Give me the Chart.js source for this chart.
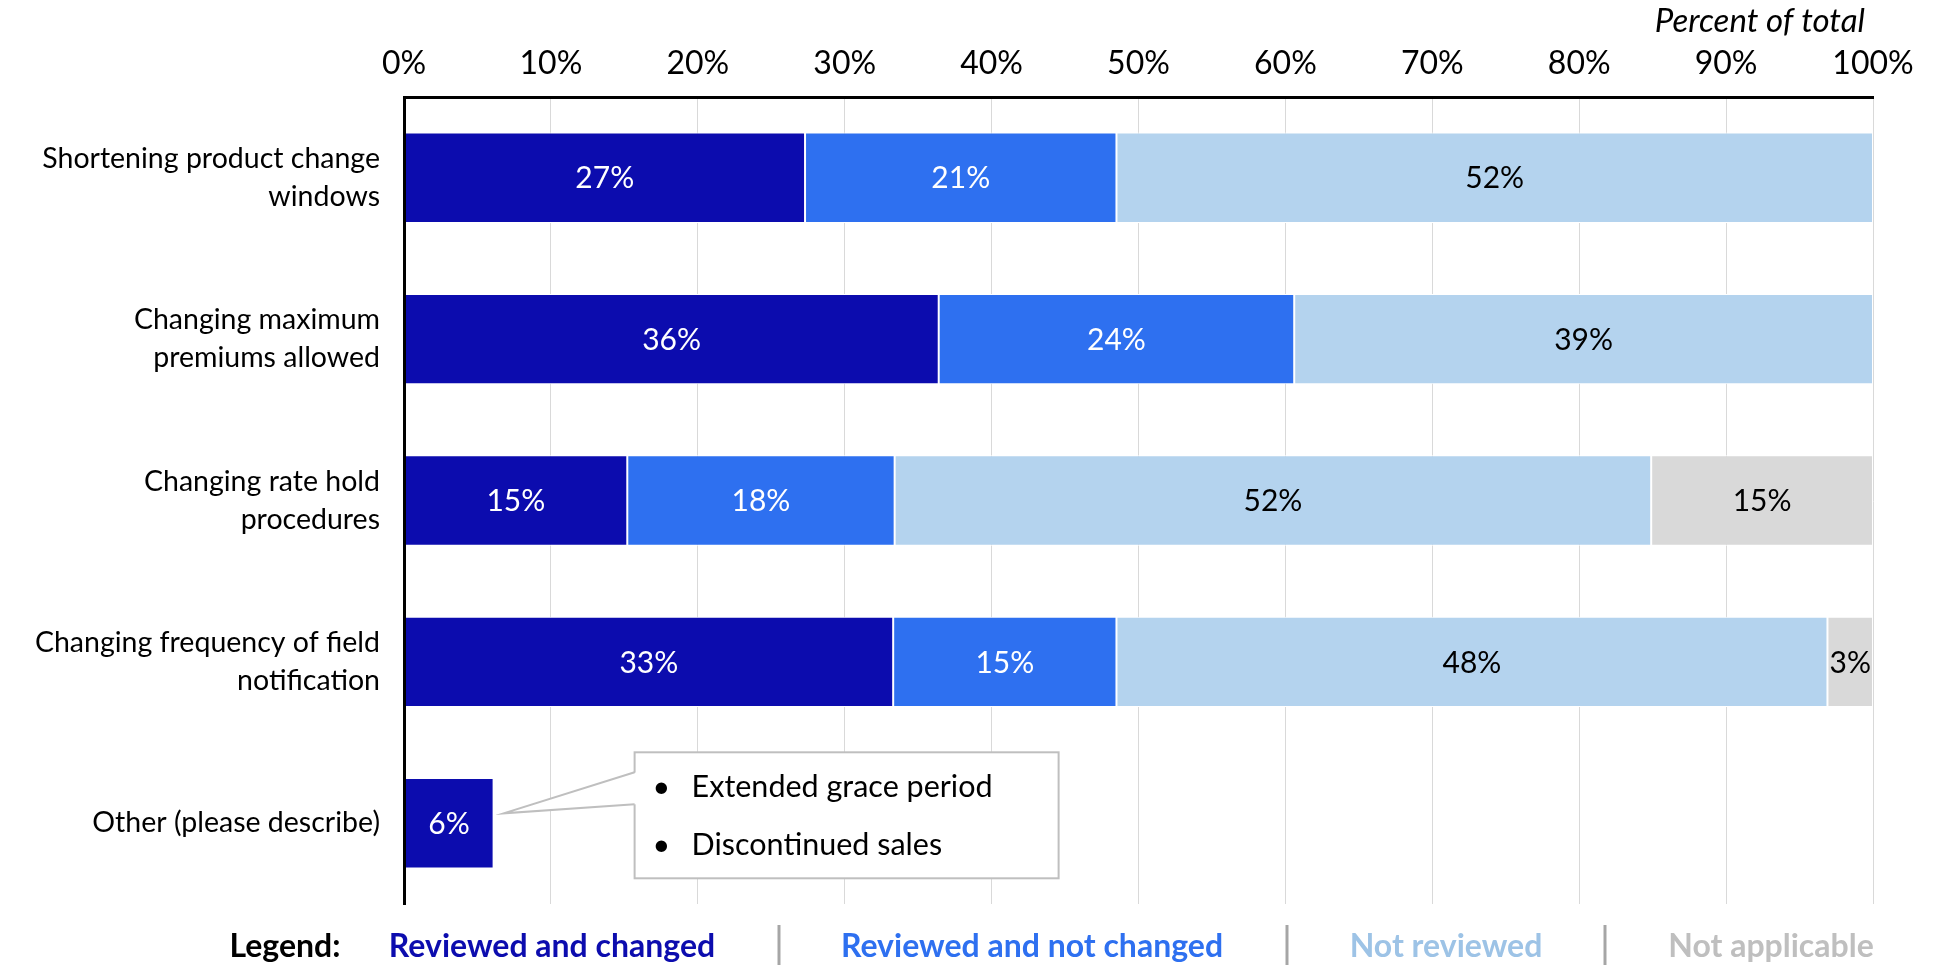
<!DOCTYPE html>
<html>
<head>
<meta charset="utf-8">
<script src="https://cdn.jsdelivr.net/npm/chart.js@4.4.1/dist/chart.umd.min.js"></script>
<style>
  body { margin: 0; background: #fff; }
  #wrap { width: 1933px; height: 965px; position: relative; }
</style>
</head>
<body>
<div id="wrap"><canvas id="grafico"></canvas></div>
<script>
// datos (porcentaje del total)
const categories = [
  ["Shortening product change", "windows"],
  ["Changing maximum", "premiums allowed"],
  ["Changing rate hold", "procedures"],
  ["Changing frequency of field", "notification"],
  "Other (please describe)"
];
const seriesNames = ["Reviewed and changed", "Reviewed and not changed", "Not reviewed", "Not applicable"];
const reviewedChanged = [27.3, 36.4, 15.2, 33.3, 6.1];
const reviewedNotChanged = [21.2, 24.2, 18.2, 15.2, 0];
const notReviewed = [51.5, 39.4, 51.5, 48.4, 0];
const notApplicable = [0, 0, 15.1, 3.1, 0];
const xTickLabels = ["0%", "10%", "20%", "30%", "40%", "50%", "60%", "70%", "80%", "90%", "100%"];
const otherNotes = ["Extended grace period", "Discontinued sales"];

const FONT = "Lato, 'Open Sans', sans-serif";
const barColors = ["#0C0CAE", "#2E70F0", "#B4D3EE", "#D9D9D9"];
const legendColors = ["#0C0CAE", "#2E70F0", "#9DC3E6", "#BFBFBF"];
const labelColors = ["#fff", "#fff", "#000", "#000"];

// etiquetas dentro de las barras
const etiquetas = {
  id: "etiquetas",
  afterDatasetsDraw(chart) {
    const ctx = chart.ctx;
    ctx.save();
    ctx.font = "30px " + FONT;
    ctx.textAlign = "center";
    ctx.textBaseline = "middle";
    chart.data.datasets.forEach((ds, di) => {
      const meta = chart.getDatasetMeta(di);
      meta.data.forEach((bar, i) => {
        const v = ds.data[i];
        if (!v) return;
        ctx.fillStyle = labelColors[di];
        ctx.fillText(Math.round(v) + "%", (bar.x + bar.base) / 2, bar.y + 1);
      });
    });
    ctx.restore();
  }
};

// titulo del eje arriba a la derecha
const tituloEje = {
  id: "tituloEje",
  afterDraw(chart) {
    const ctx = chart.ctx;
    ctx.save();
    ctx.font = "italic 33px " + FONT;
    ctx.fillStyle = "#000";
    ctx.textAlign = "right";
    ctx.textBaseline = "middle";
    ctx.fillText("Percent of total", chart.chartArea.right - 8, 21);
    ctx.restore();
  }
};

// globo con notas para "Other"
const globo = {
  id: "globo",
  afterDraw(chart) {
    const ctx = chart.ctx;
    const bar = chart.getDatasetMeta(0).data[4];
    const tipX = bar.x + 10, tipY = bar.y - 10;
    const left = bar.x + 141, top = bar.y - 71, w = 424, h = 126;
    ctx.save();
    ctx.fillStyle = "#fff";
    ctx.strokeStyle = "#BFBFBF";
    ctx.lineWidth = 2;
    ctx.fillRect(left, top, w, h);
    ctx.strokeRect(left, top, w, h);
    // cuña
    ctx.beginPath();
    ctx.moveTo(left + 2, top + 20);
    ctx.lineTo(tipX, tipY);
    ctx.lineTo(left + 2, top + 52);
    ctx.closePath();
    ctx.fill();
    ctx.beginPath();
    ctx.moveTo(left, top + 20);
    ctx.lineTo(tipX, tipY);
    ctx.lineTo(left, top + 52);
    ctx.stroke();
    ctx.fillStyle = "#000";
    ctx.font = "30.5px " + FONT;
    ctx.textBaseline = "middle";
    otherNotes.forEach((t, i) => {
      const y = top + 35 + i * 58;
      ctx.fillText("\u2022", left + 18, y);
      ctx.fillText(t, left + 57, y);
    });
    ctx.restore();
  }
};

// leyenda inferior
const leyenda = {
  id: "leyenda",
  afterDraw(chart) {
    const ctx = chart.ctx;
    const y = 947;
    const centros = [552, 1032, 1446, 1771];
    const separadores = [779, 1287, 1605];
    ctx.save();
    ctx.textAlign = "center";
    ctx.textBaseline = "middle";
    ctx.font = "bold 32px " + FONT;
    ctx.fillStyle = "#000";
    ctx.fillText("Legend:", 285, y);
    seriesNames.forEach((n, i) => {
      ctx.fillStyle = legendColors[i];
      ctx.fillText(n, centros[i], y);
    });
    ctx.strokeStyle = "#A6A6A6";
    ctx.lineWidth = 3;
    separadores.forEach(x => {
      ctx.beginPath();
      ctx.moveTo(x, 925);
      ctx.lineTo(x, 965);
      ctx.stroke();
    });
    ctx.restore();
  }
};

const series = [reviewedChanged, reviewedNotChanged, notReviewed, notApplicable];

new Chart(document.getElementById("grafico").getContext("2d"), {
  type: "bar",
  data: {
    labels: categories,
    datasets: series.map((d, i) => ({
      label: seriesNames[i],
      data: d,
      backgroundColor: barColors[i],
      borderColor: "#fff",
      borderWidth: 1,
      borderSkipped: false,
      barPercentage: 0.56,
      categoryPercentage: 1
    }))
  },
  options: {
    indexAxis: "y",
    responsive: true,
    maintainAspectRatio: false,
    animation: false,
    layout: { padding: { left: 0, right: 60, top: 0, bottom: 61 } },
    plugins: { legend: { display: false }, tooltip: { enabled: false } },
    scales: {
      x: {
        position: "top",
        stacked: true,
        min: 0,
        max: 100,
        afterFit: (s) => { s.height = 97; },
        grid: { color: "#D9D9D9", lineWidth: 1, drawTicks: false },
        border: { color: "#000", width: 3, z: 1 },
        ticks: {
          stepSize: 10,
          padding: 14,
          color: "#000",
          font: { family: FONT, size: 32 },
          callback: (v, i) => xTickLabels[i]
        }
      },
      y: {
        stacked: true,
        afterFit: (s) => { s.width = 404; },
        grid: { display: false },
        border: { color: "#000", width: 3, z: 1 },
        ticks: {
          padding: 16,
          color: "#000",
          font: { family: FONT, size: 28.5, lineHeight: 1.33 }
        }
      }
    }
  },
  plugins: [etiquetas, tituloEje, globo, leyenda]
});
</script>
</body>
</html>
